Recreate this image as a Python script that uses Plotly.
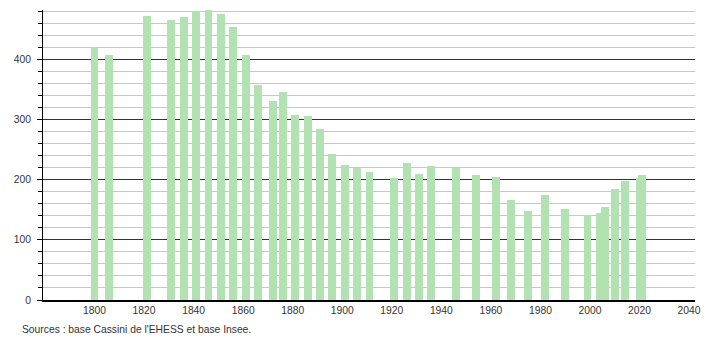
import plotly.graph_objects as go

years = [1800, 1806, 1821, 1831, 1836, 1841, 1846, 1851, 1856, 1861, 1866, 1872,
         1876, 1881, 1886, 1891, 1896, 1901, 1906, 1911, 1921, 1926, 1931, 1936,
         1946, 1954, 1962, 1968, 1975, 1982, 1990, 1999, 2004, 2006, 2010, 2014,
         2020, 2021]
population = [421, 407, 472, 465, 471, 480, 482, 475, 453, 408, 358, 330,
              345, 307, 305, 285, 243, 225, 220, 213, 203, 228, 210, 222,
              219, 208, 205, 167, 148, 175, 152, 142, 145, 155, 185, 198,
              203, 208]
x_ticks = list(range(1800, 2041, 20))
y_ticks = [0, 100, 200, 300, 400]
source_text = "Sources : base Cassini de l'EHESS et base Insee."

fig = go.Figure()
fig.add_trace(go.Bar(
    x=years, y=population, width=3.2,
    marker=dict(color="#b2e2b2", line=dict(width=0)),
    hoverinfo="x+y",
))

fig.update_layout(
    width=710, height=340,
    margin=dict(l=43, r=9, t=10, b=40),
    paper_bgcolor="white", plot_bgcolor="white",
    showlegend=False, bargap=0,
    font=dict(family="Liberation Sans, Arial, sans-serif", size=10.3, color="#333"),
    xaxis=dict(
        range=[1779.2, 2042.4], tickvals=x_ticks, ticktext=[str(t) for t in x_ticks],
        showgrid=False, zeroline=False, showline=True, linecolor="black", linewidth=1.5,
        ticks="", tickfont=dict(size=10.3, color="#333"),
    ),
    yaxis=dict(
        range=[0, 482], tickvals=y_ticks, showgrid=True, gridcolor="#333", gridwidth=1,
        zeroline=False, showline=True, linecolor="black", linewidth=1,
        ticks="outside", ticklen=5, tickcolor="black", tickfont=dict(size=10.3, color="#333"),
        ticklabelstandoff=4,
        minor=dict(dtick=20, tick0=0, showgrid=True, gridcolor="#c8c8c8", gridwidth=1,
                   ticks="outside", ticklen=4, tickcolor="black"),
        layer="below traces",
    ),
    annotations=[dict(text=source_text, xref="paper", yref="paper", x=-23/658, y=-29/290,
                      xanchor="left", yanchor="middle", showarrow=False,
                      font=dict(size=10.3, color="#333"))],
)
fig.update_xaxes(layer="above traces")

fig.write_html("out.html")
